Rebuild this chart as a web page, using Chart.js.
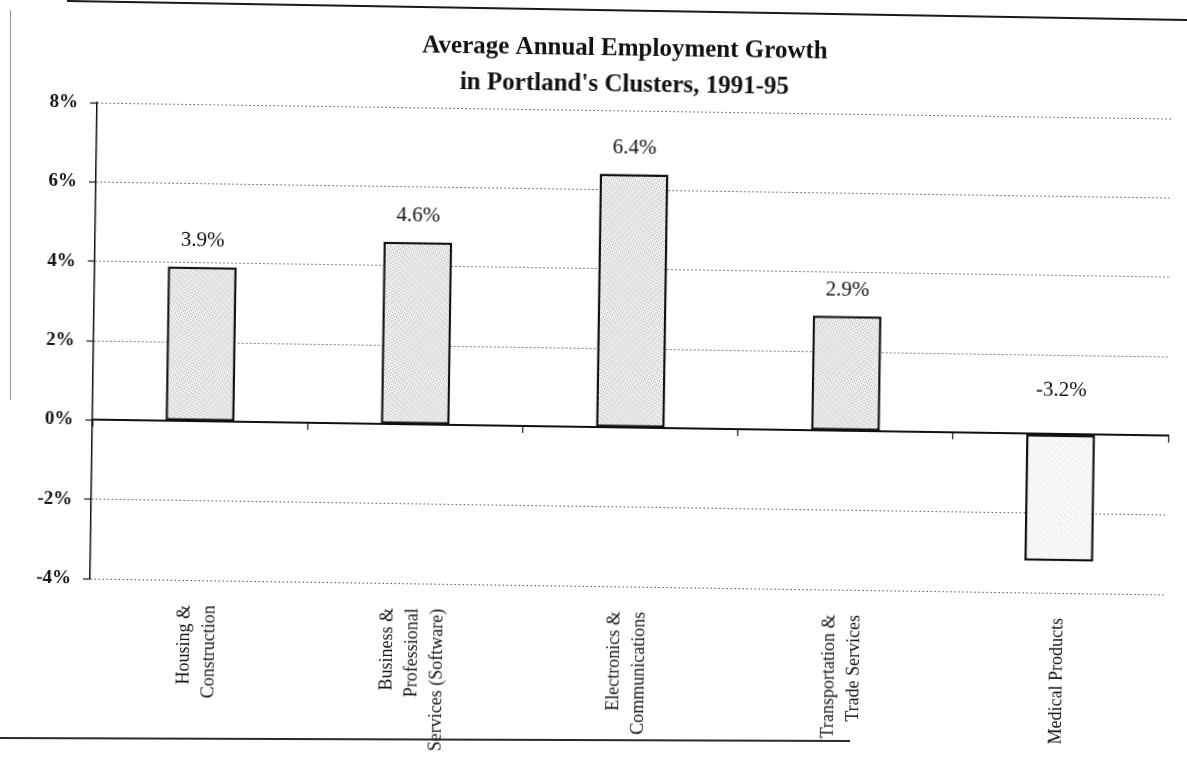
<!DOCTYPE html>
<html>
<head>
<meta charset="utf-8">
<script src="https://cdn.jsdelivr.net/npm/chart.js@4/dist/chart.umd.min.js"></script>
<style>
  html, body { margin: 0; padding: 0; background: #fff; overflow: hidden; width: 1187px; height: 764px; }
  #wrap { position: relative; width: 1187px; height: 764px; overflow: hidden; }
  #chart { position: absolute; left: 0; top: 0; transform-origin: 593.5px 382px; transform: rotate(0.85deg); }
  .rule { position: absolute; transform-origin: 0 50%; }
</style>
</head>
<body>
<div id="wrap">
  <canvas id="chart" width="1237" height="764"></canvas>
  <div class="rule" style="left:67px;top:0px;width:1121px;height:2px;background:#1a1a1a;transform:rotate(0.97deg);"></div>
  <div class="rule" style="left:10px;top:10px;width:1px;height:390px;background:#9a9a9a;"></div>
  <div class="rule" style="left:0px;top:737px;width:850px;height:2px;background:#2a2a2a;transform:rotate(0.2deg);"></div>
</div>
<script>
// ---- data ----
const titleLines = ["Average Annual Employment Growth", "in Portland's Clusters, 1991-95"];
const categories = [
  ["Housing &", "Construction"],
  ["Business &", "Professional", "Services (Software)"],
  ["Electronics &", "Communications"],
  ["Transportation &", "Trade Services"],
  ["Medical Products"]
];
const growth = [3.9, 4.6, 6.4, 2.9, -3.2];
const valueLabels = ["3.9%", "4.6%", "6.4%", "2.9%", "-3.2%"];
const yMin = -4;
const yMax = 8;
const yStep = 2;
const yTickSuffix = "%";

// ---- stipple fill ----
function stipple(base, dot) {
  const c = document.createElement('canvas');
  c.width = 6; c.height = 6;
  const g = c.getContext('2d');
  g.fillStyle = base; g.fillRect(0, 0, 6, 6);
  g.fillStyle = dot;
  [[0,0],[3,1],[1,3],[4,4],[5,2],[2,5]].forEach(p => g.fillRect(p[0], p[1], 1, 1));
  return g.createPattern(c, 'repeat');
}
const ctx = document.getElementById('chart').getContext('2d');
const fillDark = stipple('#eeeeee', '#b8b8b8');
const fillLight = stipple('#fbfbfb', '#dddddd');
const barFills = growth.map(v => v < 0 ? fillLight : fillDark);

const SERIF = '"Liberation Serif", "Times New Roman", serif';

const valueLabelPlugin = {
  id: 'valueLabels',
  afterDatasetsDraw(chart) {
    const c = chart.ctx;
    const meta = chart.getDatasetMeta(0);
    c.save();
    c.font = '21px ' + SERIF;
    c.fillStyle = '#111';
    c.textAlign = 'center';
    c.textBaseline = 'middle';
    meta.data.forEach((bar, i) => {
      const v = growth[i];
      const y = v >= 0 ? bar.y - 26 : bar.base - 44;
      c.fillText(valueLabels[i], bar.x, y);
    });
    c.restore();
  }
};

const categoryLabelPlugin = {
  id: 'categoryLabels',
  afterDraw(chart) {
    const c = chart.ctx;
    const xs = chart.scales.x;
    const top = chart.chartArea.bottom + 25;
    const lh = 25;
    c.save();
    c.font = '18px ' + SERIF;
    c.fillStyle = '#111';
    c.textAlign = 'right';
    c.textBaseline = 'middle';
    categories.forEach((lines, i) => {
      const px = xs.getPixelForValue(i);
      const n = lines.length;
      lines.forEach((line, j) => {
        const lx = px + (j - (n - 1) / 2) * lh;
        c.save();
        c.translate(lx, top);
        c.rotate(-Math.PI / 2);
        c.fillText(line, 0, 0);
        c.restore();
      });
    });
    c.restore();
  }
};

new Chart(ctx, {
  type: 'bar',
  data: {
    labels: categories.map(l => l.join(' ')),
    datasets: [{
      data: growth,
      backgroundColor: barFills,
      borderColor: '#111',
      borderWidth: 2.5,
      borderSkipped: false,
      barPercentage: 0.32,
      categoryPercentage: 1.0
    }]
  },
  options: {
    responsive: false,
    devicePixelRatio: 1,
    animation: false,
    layout: { padding: { top: 10, left: 21, right: 18, bottom: 178 } },
    plugins: {
      legend: { display: false },
      tooltip: { enabled: false },
      title: {
        display: true,
        text: titleLines,
        color: '#111',
        font: { family: SERIF, size: 25, weight: 'bold', lineHeight: 1.44 },
        padding: { top: 21, bottom: 7 }
      }
    },
    scales: {
      x: {
        type: 'category',
        position: { y: 0 },
        offset: true,
        grid: { display: true, offset: true, drawOnChartArea: false, drawTicks: true, tickLength: 6, tickColor: '#111', tickWidth: 1.2, color: '#111' },
        border: { display: true, color: '#111', width: 2 },
        ticks: { display: false }
      },
      y: {
        type: 'linear',
        position: 'left',
        min: yMin,
        max: yMax,
        afterFit(scale) { scale.width = 72; },
        ticks: {
          display: true,
          stepSize: yStep,
          padding: 12,
          color: '#111',
          font: { family: SERIF, size: 19, weight: 'bold' },
          callback: (v) => v + yTickSuffix
        },
        grid: {
          color: '#555',
          lineWidth: 1,
          tickLength: 7,
          tickColor: '#111',
          tickWidth: 1.2,
          tickBorderDash: []
        },
        border: { display: true, color: '#111', width: 1.5, dash: [1.5, 2.5] }
      },
      yRight: {
        type: 'linear',
        position: 'right',
        min: yMin,
        max: yMax,
        display: true,
        afterFit(scale) { scale.width = 50; },
        ticks: { display: false },
        grid: { display: false },
        border: { display: false }
      }
    }
  },
  plugins: [valueLabelPlugin, categoryLabelPlugin]
});
</script>
</body>
</html>
